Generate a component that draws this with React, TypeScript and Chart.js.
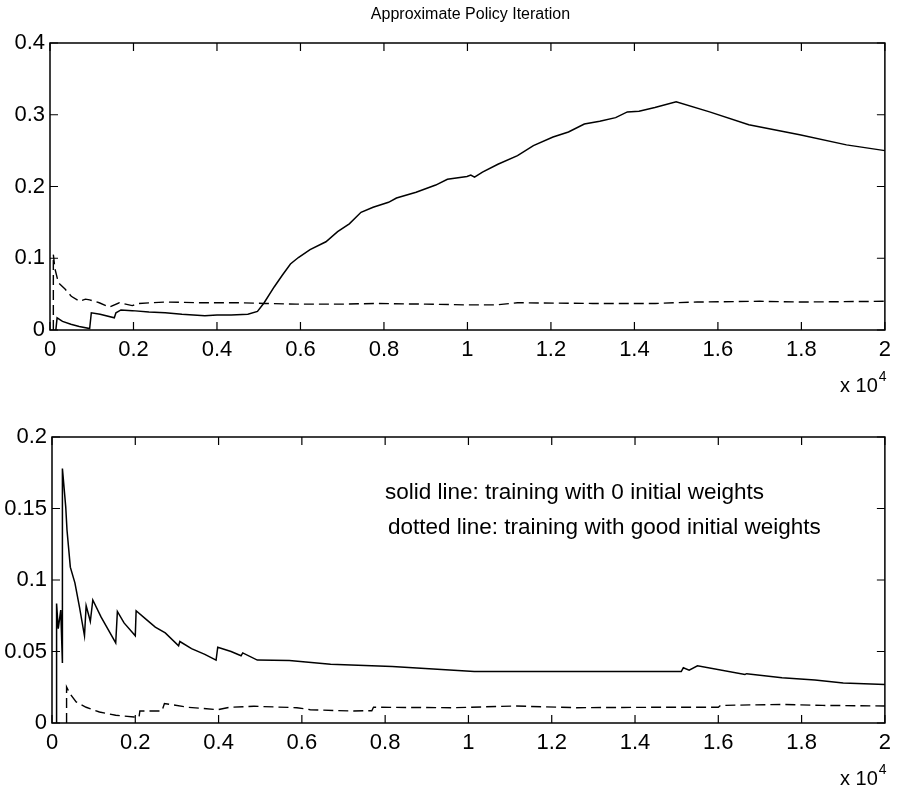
import React, { useEffect, useRef } from "react";
import { Chart, registerables } from "chart.js";

Chart.register(...registerables);

// ---------- DATA (x in units of 10^4) ----------
const xTickValues = [0, 0.2, 0.4, 0.6, 0.8, 1, 1.2, 1.4, 1.6, 1.8, 2];
const topYTicks = [0, 0.1, 0.2, 0.3, 0.4];
const bottomYTicks = [0, 0.05, 0.1, 0.15, 0.2];

const titleText = "Approximate Policy Iteration";
const noteSolid = "solid line: training with 0 initial weights";
const noteDotted = "dotted line: training with good initial weights";

const topSolidX = [0.014, 0.017, 0.03, 0.05, 0.07, 0.095, 0.099, 0.12, 0.154, 0.158, 0.17, 0.197, 0.237, 0.276, 0.316, 0.371, 0.4, 0.434, 0.474, 0.497, 0.513, 0.537, 0.556, 0.576, 0.595, 0.623, 0.661, 0.689, 0.717, 0.745, 0.774, 0.811, 0.83, 0.877, 0.924, 0.952, 0.999, 1.008, 1.017, 1.036, 1.073, 1.12, 1.158, 1.205, 1.242, 1.28, 1.317, 1.355, 1.383, 1.411, 1.449, 1.5, 1.58, 1.674, 1.796, 1.908, 2.0];
const topSolidY = [0, 0.017, 0.012, 0.008, 0.005, 0.002, 0.024, 0.022, 0.017, 0.024, 0.028, 0.027, 0.025, 0.024, 0.022, 0.02, 0.021, 0.021, 0.022, 0.026, 0.038, 0.06, 0.076, 0.092, 0.101, 0.112, 0.123, 0.137, 0.148, 0.164, 0.171, 0.178, 0.184, 0.192, 0.202, 0.21, 0.214, 0.216, 0.213, 0.22, 0.231, 0.243, 0.257, 0.269, 0.276, 0.287, 0.291, 0.296, 0.304, 0.305, 0.31, 0.318, 0.304, 0.286, 0.272, 0.258, 0.25];

const topDashX = [0.008, 0.008, 0.012, 0.02, 0.036, 0.051, 0.071, 0.085, 0.095, 0.118, 0.142, 0.166, 0.197, 0.213, 0.276, 0.355, 0.45, 0.513, 0.59, 0.7, 0.78, 0.9, 1.0, 1.07, 1.12, 1.3, 1.45, 1.55, 1.7, 1.8, 2.0];
const topDashY = [0, 0.105, 0.085, 0.066, 0.057, 0.047, 0.04, 0.043, 0.042, 0.038, 0.032, 0.038, 0.034, 0.037, 0.039, 0.038, 0.038, 0.037, 0.036, 0.036, 0.037, 0.036, 0.035, 0.035, 0.038, 0.037, 0.037, 0.039, 0.04, 0.039, 0.04];

const botSolidX = [0.011, 0.011, 0.015, 0.021, 0.025, 0.025, 0.028, 0.033, 0.036, 0.044, 0.055, 0.066, 0.078, 0.082, 0.0885, 0.092, 0.098, 0.118, 0.153, 0.157, 0.173, 0.2, 0.202, 0.224, 0.248, 0.272, 0.304, 0.307, 0.335, 0.367, 0.394, 0.398, 0.43, 0.454, 0.458, 0.493, 0.57, 0.669, 0.817, 1.014, 1.511, 1.516, 1.53, 1.55, 1.664, 1.668, 1.753, 1.832, 1.9, 2.0];
const botSolidY = [0, 0.0836, 0.066, 0.079, 0.042, 0.178, 0.168, 0.151, 0.135, 0.109, 0.098, 0.081, 0.061, 0.082, 0.075, 0.071, 0.086, 0.074, 0.056, 0.078, 0.07, 0.061, 0.0785, 0.073, 0.067, 0.063, 0.054, 0.057, 0.052, 0.048, 0.044, 0.053, 0.05, 0.047, 0.049, 0.044, 0.0437, 0.041, 0.0395, 0.036, 0.036, 0.0386, 0.037, 0.04, 0.034, 0.0345, 0.0316, 0.03, 0.028, 0.027];

const botDashX = [0.035, 0.035, 0.043, 0.058, 0.082, 0.114, 0.153, 0.197, 0.209, 0.211, 0.264, 0.27, 0.327, 0.398, 0.426, 0.485, 0.588, 0.62, 0.718, 0.768, 0.772, 0.965, 1.004, 1.112, 1.26, 1.456, 1.6, 1.605, 1.753, 1.851, 2.0];
const botDashY = [0, 0.0252, 0.0206, 0.0147, 0.011, 0.0077, 0.0054, 0.0042, 0.0042, 0.0084, 0.0084, 0.0136, 0.011, 0.0093, 0.011, 0.0117, 0.0107, 0.0093, 0.0084, 0.0086, 0.011, 0.0107, 0.011, 0.0119, 0.0107, 0.011, 0.011, 0.0123, 0.013, 0.0123, 0.0119];

// ---------- helpers ----------
const FONT = "'Liberation Sans', Arial, Helvetica, sans-serif";
const pts = (xs: number[], ys: number[]) => xs.map((x, i) => ({ x, y: ys[i] }));
const fmt = (v: number) => String(Math.round(v * 100) / 100);

const framePlugin = {
  id: "frame",
  afterDatasetsDraw(chart: any) {
    const { ctx, chartArea: a, scales } = chart;
    ctx.save();
    ctx.strokeStyle = "#000";
    ctx.lineWidth = 1.5;
    ctx.strokeRect(a.left, a.top, a.right - a.left, a.bottom - a.top);
    ctx.lineWidth = 1.2;
    const L = 8;
    ctx.beginPath();
    scales.x.ticks.forEach((t: any) => {
      const p = scales.x.getPixelForValue(t.value);
      ctx.moveTo(p, a.bottom);
      ctx.lineTo(p, a.bottom - L);
      ctx.moveTo(p, a.top);
      ctx.lineTo(p, a.top + L);
    });
    scales.y.ticks.forEach((t: any) => {
      const p = scales.y.getPixelForValue(t.value);
      ctx.moveTo(a.left, p);
      ctx.lineTo(a.left + L, p);
      ctx.moveTo(a.right, p);
      ctx.lineTo(a.right - L, p);
    });
    ctx.stroke();
    ctx.restore();
  },
};

function makeTextPlugin(draw: (ctx: CanvasRenderingContext2D, chart: any) => void) {
  return {
    id: "texts",
    afterDraw(chart: any) {
      const ctx = chart.ctx;
      ctx.save();
      ctx.fillStyle = "#000";
      draw(ctx, chart);
      ctx.restore();
    },
  };
}

function drawExponent(ctx: CanvasRenderingContext2D, x: number, baseline: number) {
  ctx.textAlign = "left";
  ctx.textBaseline = "alphabetic";
  ctx.font = `20px ${FONT}`;
  ctx.fillText("x 10", x, baseline);
  const w = ctx.measureText("x 10").width;
  ctx.font = `14px ${FONT}`;
  ctx.fillText("4", x + w + 1, baseline - 11);
}

function makeConfig(
  datasets: any[],
  yTicks: number[],
  padding: any,
  textPlugin: any
): any {
  const xMax = xTickValues[xTickValues.length - 1];
  const yMax = yTicks[yTicks.length - 1];
  const yStep = yTicks[1] - yTicks[0];
  return {
    type: "line",
    data: { datasets },
    options: {
      animation: false,
      responsive: false,
      parsing: true,
      layout: { padding },
      plugins: { legend: { display: false }, tooltip: { enabled: false }, title: { display: false } },
      elements: { point: { radius: 0 }, line: { tension: 0 } },
      scales: {
        x: {
          type: "linear",
          min: 0,
          max: xMax,
          grid: { display: false, drawTicks: false },
          border: { display: false },
          afterFit: (s: any) => { s.height = 30; },
          afterBuildTicks: (s: any) => { s.ticks = xTickValues.map((v) => ({ value: v })); },
          ticks: {
            padding: 7,
            color: "#000",
            font: { family: FONT, size: 22 },
            callback: (v: any) => fmt(Number(v)),
            maxRotation: 0,
            autoSkip: false,
          },
        },
        y: {
          type: "linear",
          min: 0,
          max: yMax,
          grid: { display: false, drawTicks: false },
          border: { display: false },
          afterFit: (s: any) => { s.width = 50; },
          afterBuildTicks: (s: any) => { s.ticks = yTicks.map((v) => ({ value: v })); },
          ticks: {
            stepSize: yStep,
            padding: 5,
            color: "#000",
            font: { family: FONT, size: 22 },
            callback: (v: any) => fmt(Number(v)),
            autoSkip: false,
          },
        },
      },
    },
    plugins: [framePlugin, textPlugin],
  };
}

const solidStyle = { borderColor: "#000", borderWidth: 1.5, pointRadius: 0, fill: false };
const dashStyle = { borderColor: "#000", borderWidth: 1.4, borderDash: [10, 5], pointRadius: 0, fill: false };

export default function App() {
  const topRef = useRef<HTMLCanvasElement>(null);
  const botRef = useRef<HTMLCanvasElement>(null);

  useEffect(() => {
    const topText = makeTextPlugin((ctx, chart) => {
      const a = chart.chartArea;
      ctx.font = `16px ${FONT}`;
      ctx.textAlign = "center";
      ctx.textBaseline = "alphabetic";
      ctx.fillText(titleText, (a.left + a.right) / 2 + 3, 19);
      drawExponent(ctx, 840, 392);
    });
    const botText = makeTextPlugin((ctx) => {
      ctx.font = `22.5px ${FONT}`;
      ctx.textAlign = "left";
      ctx.textBaseline = "alphabetic";
      ctx.fillText(noteSolid, 385, 104);
      ctx.fillText(noteDotted, 388, 139);
      drawExponent(ctx, 840, 390);
    });

    const c1 = new Chart(
      topRef.current!,
      makeConfig(
        [
          { ...solidStyle, data: pts(topSolidX, topSolidY) },
          { ...dashStyle, data: pts(topDashX, topDashY) },
        ],
        topYTicks,
        { left: 0, right: 9, top: 43, bottom: 35 },
        topText
      )
    );
    const c2 = new Chart(
      botRef.current!,
      makeConfig(
        [
          { ...solidStyle, data: pts(botSolidX, botSolidY) },
          { ...dashStyle, data: pts(botDashX, botDashY) },
        ],
        bottomYTicks,
        { left: 2, right: 9, top: 42, bottom: 37 },
        botText
      )
    );
    return () => {
      c1.destroy();
      c2.destroy();
    };
  }, []);

  return (
    <div style={{ position: "absolute", left: 0, top: 0, width: 898, height: 790, background: "#fff" }}>
      <canvas ref={topRef} width={898} height={395} style={{ position: "absolute", left: 0, top: 0, display: "block" }} />
      <canvas ref={botRef} width={898} height={395} style={{ position: "absolute", left: 0, top: 395, display: "block" }} />
    </div>
  );
}
